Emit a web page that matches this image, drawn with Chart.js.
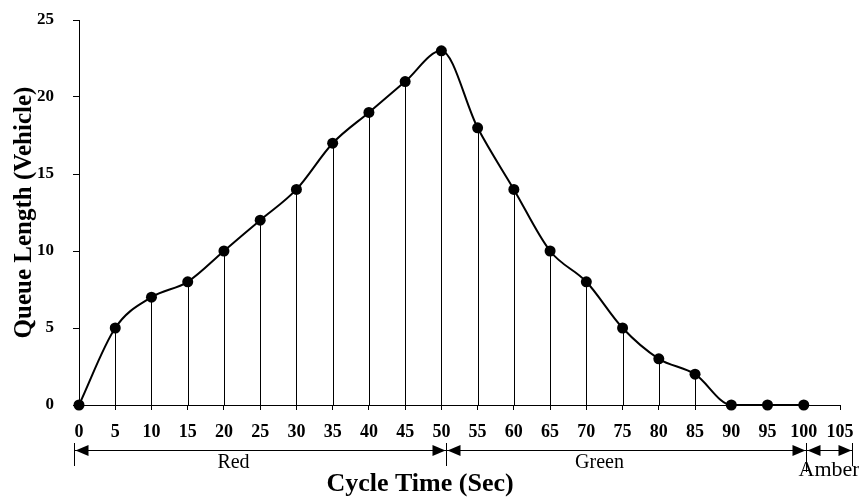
<!DOCTYPE html>
<html>
<head>
<meta charset="utf-8">
<script src="https://cdn.jsdelivr.net/npm/chart.js@4/dist/chart.umd.min.js"></script>
<style>
  html, body { margin: 0; padding: 0; background: #fff; }
  #wrap { width: 859px; height: 498px; }
</style>
</head>
<body>
<div id="wrap"><canvas id="queueChart"></canvas></div>
<script>
// cycle time (sec) and queue length (vehicles)
const cycleTimes = [0, 5, 10, 15, 20, 25, 30, 35, 40, 45, 50, 55, 60, 65, 70, 75, 80, 85, 90, 95, 100];
const queueLengths = [0, 5, 7, 8, 10, 12, 14, 17, 19, 21, 23, 18, 14, 10, 8, 5, 3, 2, 0, 0, 0];

// signal phases along the cycle
const phaseNames = ["Red", "Green", "Amber"];
const phaseStart = [-0.7, 50.7, 100.3];
const phaseEnd = [50.7, 100.3, 106.6];

const serif = "'Liberation Serif', 'Times New Roman', serif";

// thin vertical lines from each point down to the x axis
const dropLines = {
  id: "dropLines",
  beforeDatasetsDraw(chart) {
    const { ctx, scales: { x, y } } = chart;
    ctx.save();
    ctx.strokeStyle = "#000";
    ctx.lineWidth = 1;
    cycleTimes.forEach((t, i) => {
      if (queueLengths[i] <= 0) return;
      const px = Math.round(x.getPixelForValue(t)) + 0.5;
      ctx.beginPath();
      ctx.moveTo(px, y.getPixelForValue(queueLengths[i]));
      ctx.lineTo(px, y.getPixelForValue(0));
      ctx.stroke();
    });
    ctx.restore();
  }
};

// red / green / amber brackets below the tick labels
const phaseBrackets = {
  id: "phaseBrackets",
  afterDraw(chart) {
    const { ctx, scales: { x } } = chart;
    const lineY = 450.5;
    ctx.save();
    ctx.strokeStyle = "#000";
    ctx.fillStyle = "#000";
    ctx.lineWidth = 1;

    const arrow = (tipX, dir) => {
      ctx.beginPath();
      ctx.moveTo(tipX, lineY);
      ctx.lineTo(tipX + dir * 13, lineY - 5.5);
      ctx.lineTo(tipX + dir * 13, lineY + 5.5);
      ctx.closePath();
      ctx.fill();
    };

    phaseNames.forEach((name, i) => {
      const x0 = Math.round(x.getPixelForValue(phaseStart[i])) + 0.5;
      const x1 = Math.round(x.getPixelForValue(phaseEnd[i])) + 0.5;
      ctx.beginPath();
      ctx.moveTo(x0, lineY);
      ctx.lineTo(x1, lineY);
      ctx.moveTo(x0, 443);
      ctx.lineTo(x0, i === 2 ? 472 : 466);
      ctx.moveTo(x1, 443);
      ctx.lineTo(x1, i === 1 ? 472 : 466);
      ctx.stroke();
      arrow(x0 + 1, 1);
      arrow(x1 - 1, -1);

      ctx.textBaseline = "middle";
      if (name === "Amber") {
        ctx.font = "22px " + serif;
        ctx.textAlign = "left";
        ctx.fillText(name, x0 - 8, 470);
      } else {
        ctx.font = "20px " + serif;
        ctx.textAlign = "center";
        ctx.fillText(name, (x0 + x1) / 2 - 27, 463);
      }
    });
    ctx.restore();
  }
};

const ctx = document.getElementById("queueChart").getContext("2d");
new Chart(ctx, {
  type: "line",
  data: {
    datasets: [{
      data: cycleTimes.map((t, i) => ({ x: t, y: queueLengths[i] })),
      borderColor: "#000",
      backgroundColor: "#000",
      borderWidth: 2,
      cubicInterpolationMode: "monotone",
      pointRadius: 5.5,
      pointHoverRadius: 5.5,
      pointBackgroundColor: "#000",
      pointBorderWidth: 0,
      clip: false
    }]
  },
  options: {
    responsive: true,
    maintainAspectRatio: false,
    animation: false,
    layout: { padding: { top: 20, right: 19, left: 0, bottom: 0 } },
    plugins: {
      legend: { display: false },
      tooltip: { enabled: false },
      title: {
        display: true,
        position: "bottom",
        text: "Cycle Time (Sec)",
        color: "#000",
        font: { family: serif, size: 26, weight: "bold", lineHeight: 1 },
        padding: { top: 0, bottom: 1 }
      }
    },
    scales: {
      x: {
        type: "linear",
        min: 0,
        max: 105,
        afterFit(scale) {
          scale.height = 66;
          scale.paddingLeft = 0;
          scale.paddingRight = 0;
        },
        border: { display: true, color: "#000", width: 1 },
        grid: { drawOnChartArea: false, color: "#000", tickLength: 5 },
        ticks: {
          stepSize: 5,
          color: "#000",
          padding: 12,
          maxRotation: 0,
          autoSkip: false,
          font: { family: serif, size: 18, weight: "bold" }
        }
      },
      y: {
        min: 0,
        max: 25,
        afterFit(scale) {
          scale.width = 79;
          scale.paddingTop = 0;
          scale.paddingBottom = 0;
        },
        border: { display: true, color: "#000", width: 1 },
        grid: { drawOnChartArea: false, color: "#000", tickLength: 6 },
        ticks: {
          stepSize: 5,
          color: "#000",
          padding: 19,
          font: { family: serif, size: 17, weight: "bold" }
        },
        title: {
          display: true,
          text: "Queue Length (Vehicle)",
          color: "#000",
          font: { family: serif, size: 25, weight: "bold" },
          padding: { top: 10, bottom: 0 }
        }
      }
    }
  },
  plugins: [dropLines, phaseBrackets]
});
</script>
</body>
</html>
